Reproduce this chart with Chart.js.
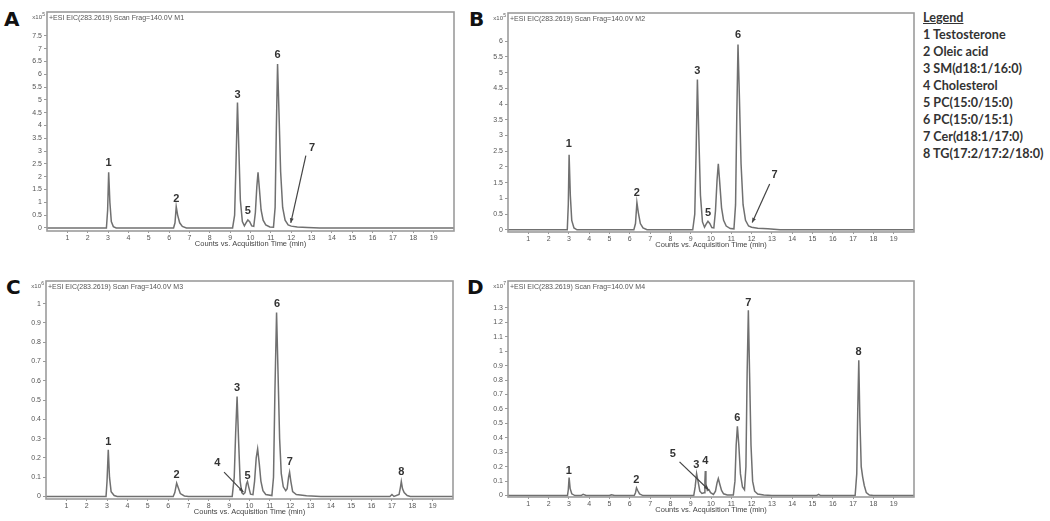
<!DOCTYPE html>
<html>
<head>
<meta charset="utf-8">
<script src="https://cdn.jsdelivr.net/npm/chart.js@4.4.1/dist/chart.umd.min.js"></script>
<style>
  body { margin: 0; background: #fff; width: 1050px; height: 521px; position: relative; overflow: hidden; }
  canvas { position: absolute; }
  .letter { position: absolute; font: bold 20px "DejaVu Sans", Arial, sans-serif; color: #111; line-height: 1; }
  .legend { position: absolute; left: 923px; top: 9px; font: bold 12.6px Lato, "Open Sans", sans-serif; color: #333; line-height: 17px; }
  .legend u { text-decoration-thickness: 1px; }
</style>
</head>
<body>
<div class="letter" style="left:4px;top:9px">A</div>
<div class="letter" style="left:469px;top:9px">B</div>
<div class="letter" style="left:6px;top:277px">C</div>
<div class="letter" style="left:467px;top:277px">D</div>
<div class="legend">
  <u>Legend</u><br>
  1 Testosterone<br>
  2 Oleic acid<br>
  3 SM(d18:1/16:0)<br>
  4 Cholesterol<br>
  5 PC(15:0/15:0)<br>
  6 PC(15:0/15:1)<br>
  7 Cer(d18:1/17:0)<br>
  8 TG(17:2/17:2/18:0)
</div>
<canvas id="chartA"></canvas>
<canvas id="chartB"></canvas>
<canvas id="chartC"></canvas>
<canvas id="chartD"></canvas>
<script>
// retention time ticks (min)
const xTicks = [1, 2, 3, 4, 5, 6, 7, 8, 9, 10, 11, 12, 13, 14, 15, 16, 17, 18, 19];

// y ticks per panel
const yTicksA = [0, 0.5, 1, 1.5, 2, 2.5, 3, 3.5, 4, 4.5, 5, 5.5, 6, 6.5, 7, 7.5];
const yTicksB = [0, 0.5, 1, 1.5, 2, 2.5, 3, 3.5, 4, 4.5, 5, 5.5, 6];
const yTicksC = [0, 0.1, 0.2, 0.3, 0.4, 0.5, 0.6, 0.7, 0.8, 0.9, 1];
const yTicksD = [0, 0.1, 0.2, 0.3, 0.4, 0.5, 0.6, 0.7, 0.8, 0.9, 1, 1.1, 1.2, 1.3];

// EIC traces: [time (min), counts]
const traceA = [
  [0, 0], [2.92, 0], [2.98, 0.7], [3.03, 2.17], [3.09, 1.0], [3.16, 0.25], [3.26, 0.05], [3.4, 0],
  [6.22, 0], [6.29, 0.2], [6.35, 0.83], [6.42, 0.5], [6.52, 0.2], [6.65, 0.06], [6.85, 0],
  [9.12, 0], [9.22, 0.5], [9.29, 2.6], [9.36, 4.9], [9.43, 3.0], [9.5, 1.1], [9.6, 0.25], [9.7, 0.08],
  [9.78, 0.2], [9.87, 0.31], [9.96, 0.24], [10.06, 0.08], [10.16, 0.06], [10.24, 0.6], [10.31, 1.6],
  [10.37, 2.17], [10.44, 1.5], [10.52, 0.7], [10.62, 0.3], [10.75, 0.12], [10.95, 0.04], [11.13, 0.03],
  [11.21, 0.8], [11.27, 3.9], [11.33, 6.4], [11.4, 4.5], [11.48, 2.2], [11.58, 0.8], [11.7, 0.3],
  [11.85, 0.12], [12.0, 0.07], [12.3, 0.04], [12.8, 0.02], [13.4, 0], [20, 0]
];
const traceB = [
  [0, 0], [2.92, 0], [2.97, 0.8], [3.01, 2.39], [3.07, 1.1], [3.14, 0.3], [3.25, 0.06], [3.4, 0],
  [6.2, 0], [6.28, 0.2], [6.35, 0.87], [6.42, 0.55], [6.52, 0.2], [6.65, 0.06], [6.85, 0],
  [9.1, 0], [9.2, 0.5], [9.27, 2.6], [9.33, 4.78], [9.4, 3.0], [9.48, 1.1], [9.58, 0.25], [9.68, 0.08],
  [9.76, 0.18], [9.85, 0.27], [9.94, 0.2], [10.04, 0.07], [10.14, 0.06], [10.22, 0.6], [10.3, 1.6],
  [10.36, 2.1], [10.43, 1.5], [10.52, 0.7], [10.62, 0.3], [10.75, 0.12], [10.95, 0.04], [11.13, 0.03],
  [11.21, 0.8], [11.27, 3.6], [11.33, 5.9], [11.4, 4.2], [11.48, 2.1], [11.58, 0.8], [11.7, 0.3],
  [11.85, 0.12], [12.0, 0.08], [12.3, 0.05], [12.8, 0.03], [13.4, 0], [20, 0]
];
const traceC = [
  [0, 0], [2.95, 0], [3.0, 0.08], [3.06, 0.242], [3.12, 0.1], [3.2, 0.025], [3.35, 0.005], [3.5, 0],
  [6.25, 0], [6.33, 0.02], [6.42, 0.069], [6.5, 0.045], [6.6, 0.015], [6.8, 0.003], [7, 0],
  [9.15, 0], [9.25, 0.1], [9.32, 0.33], [9.39, 0.518], [9.46, 0.3], [9.54, 0.08], [9.62, 0.02],
  [9.7, 0.012], [9.78, 0.02], [9.85, 0.065], [9.9, 0.078], [9.96, 0.05], [10.05, 0.012], [10.17, 0.01],
  [10.25, 0.08], [10.33, 0.2], [10.4, 0.247], [10.48, 0.17], [10.56, 0.08], [10.66, 0.03], [10.8, 0.01],
  [11.1, 0.005], [11.18, 0.1], [11.25, 0.55], [11.33, 0.953], [11.4, 0.65], [11.48, 0.3], [11.56, 0.12],
  [11.66, 0.05], [11.78, 0.03], [11.85, 0.04], [11.92, 0.1], [11.97, 0.126], [12.03, 0.08], [12.12, 0.025],
  [12.3, 0.01], [12.8, 0.004], [13.5, 0],
  [16.9, 0], [17.0, 0.01], [17.1, 0], [17.35, 0.01], [17.42, 0.05], [17.46, 0.078], [17.52, 0.04],
  [17.6, 0.02], [17.75, 0.005], [17.9, 0], [20, 0]
];
const traceD = [
  [0, 0], [2.93, 0], [2.97, 0.04], [3.01, 0.125], [3.06, 0.05], [3.14, 0.012], [3.3, 0],
  [3.6, 0], [3.7, 0.008], [3.85, 0], [5.0, 0], [5.1, 0.006], [5.25, 0],
  [6.22, 0], [6.28, 0.02], [6.33, 0.053], [6.39, 0.035], [6.48, 0.012], [6.65, 0],
  [9.15, 0], [9.22, 0.06], [9.29, 0.152], [9.36, 0.1], [9.45, 0.03], [9.55, 0.015], [9.66, 0.02],
  [9.7, 0.1], [9.72, 0.17], [9.75, 0.08], [9.82, 0.035], [9.9, 0.04], [9.98, 0.02], [10.12, 0.008],
  [10.22, 0.03], [10.3, 0.09], [10.36, 0.118], [10.43, 0.08], [10.52, 0.035], [10.62, 0.012],
  [10.8, 0.004], [11.1, 0.004], [11.18, 0.1], [11.24, 0.35], [11.3, 0.48], [11.37, 0.35], [11.45, 0.15],
  [11.55, 0.06], [11.65, 0.04], [11.72, 0.2], [11.78, 0.85], [11.84, 1.284], [11.9, 0.85], [11.97, 0.35],
  [12.05, 0.1], [12.15, 0.03], [12.3, 0.01], [12.6, 0.004], [13, 0],
  [15.2, 0], [15.3, 0.008], [15.4, 0],
  [17.1, 0], [17.18, 0.15], [17.23, 0.6], [17.28, 0.937], [17.33, 0.55], [17.4, 0.2], [17.47, 0.13],
  [17.55, 0.07], [17.65, 0.02], [17.8, 0.004], [18, 0], [20, 0]
];

// peak numbers: [text, time, counts]
const peakLabelsA = [['1', 3.03, 2.53], ['2', 6.35, 1.13], ['3', 9.36, 5.2], ['5', 9.87, 0.66], ['6', 11.33, 6.76], ['7', 13.02, 3.14]];
const peakLabelsB = [['1', 3.0, 2.74], ['2', 6.35, 1.17], ['3', 9.33, 5.07], ['5', 9.85, 0.53], ['6', 11.33, 6.19], ['7', 13.13, 1.73]];
const peakLabelsC = [['1', 3.06, 0.282], ['2', 6.42, 0.112], ['3', 9.39, 0.565], ['4', 8.42, 0.173], ['5', 9.9, 0.107], ['6', 11.35, 1.0], ['7', 11.98, 0.178], ['8', 17.46, 0.126]];
const peakLabelsD = [['1', 3.0, 0.17], ['2', 6.32, 0.111], ['3', 9.28, 0.21], ['4', 9.72, 0.238], ['5', 8.12, 0.29], ['6', 11.3, 0.54], ['7', 11.84, 1.337], ['8', 17.27, 0.995]];

// pointer arrows: [fromTime, fromCounts, toTime, toCounts]
const arrowsA = [[12.72, 2.82, 11.98, 0.2]];
const arrowsB = [[12.89, 1.46, 12.03, 0.23]];
const arrowsC = [[8.75, 0.126, 9.7, 0.023]];
const arrowsD = [[8.45, 0.233, 9.88, 0.04]];

const panels = [
  { id: 'chartA', trace: traceA, yTicks: yTicksA, yMin: -0.12, yMax: 8.43, exp: '5', tag: 'M1', labels: peakLabelsA, arrows: arrowsA, box: [47, 12, 454, 231] },
  { id: 'chartB', trace: traceB, yTicks: yTicksB, yMin: -0.07, yMax: 6.9, exp: '5', tag: 'M2', labels: peakLabelsB, arrows: arrowsB, box: [508, 13, 914, 232] },
  { id: 'chartC', trace: traceC, yTicks: yTicksC, yMin: -0.013, yMax: 1.117, exp: '6', tag: 'M3', labels: peakLabelsC, arrows: arrowsC, box: [46, 281, 453, 499] },
  { id: 'chartD', trace: traceD, yTicks: yTicksD, yMin: -0.01, yMax: 1.487, exp: '7', tag: 'M4', labels: peakLabelsD, arrows: arrowsD, box: [508, 281, 914, 497] }
];

const AXIS_W = 40, PAD_T = 8, PAD_R = 4, AXIS_H = 17;

const fmt = v => String(Math.round(v * 10) / 10);

const decor = {
  id: 'decor',
  afterDatasetsDraw(chart, args, opts) {
    const { ctx, chartArea: a, scales: { x, y } } = chart;
    ctx.save();
    // frame
    ctx.strokeStyle = '#9c9c9c';
    ctx.lineWidth = 1.6;
    ctx.strokeRect(a.left, a.top, a.right - a.left, a.bottom - a.top);
    // header text
    ctx.fillStyle = '#555';
    ctx.font = '7px Arial, "Liberation Sans", sans-serif';
    ctx.textBaseline = 'middle';
    ctx.textAlign = 'left';
    ctx.fillText('+ESI EIC(283.2619) Scan Frag=140.0V ' + opts.tag, a.left + 2, a.top + 6.5);
    ctx.textAlign = 'right';
    ctx.font = '6px Arial, "Liberation Sans", sans-serif';
    ctx.fillText('x10', a.left - 5, a.top + 5);
    ctx.font = '5px Arial, "Liberation Sans", sans-serif';
    ctx.fillText(opts.exp, a.left - 2, a.top + 3);
    // peak numbers
    ctx.fillStyle = '#333';
    ctx.font = 'bold 11px Arial, "Liberation Sans", sans-serif';
    ctx.textAlign = 'center';
    opts.labels.forEach(([t, tx, ty]) => {
      ctx.fillText(t, x.getPixelForValue(tx), y.getPixelForValue(ty));
    });
    // arrows
    ctx.strokeStyle = '#444';
    ctx.fillStyle = '#444';
    ctx.lineWidth = 1.2;
    opts.arrows.forEach(([x1, y1, x2, y2]) => {
      const px1 = x.getPixelForValue(x1), py1 = y.getPixelForValue(y1);
      const px2 = x.getPixelForValue(x2), py2 = y.getPixelForValue(y2);
      ctx.beginPath();
      ctx.moveTo(px1, py1);
      ctx.lineTo(px2, py2);
      ctx.stroke();
      const ang = Math.atan2(py2 - py1, px2 - px1);
      ctx.beginPath();
      ctx.moveTo(px2, py2);
      ctx.lineTo(px2 - 5 * Math.cos(ang - 0.4), py2 - 5 * Math.sin(ang - 0.4));
      ctx.lineTo(px2 - 5 * Math.cos(ang + 0.4), py2 - 5 * Math.sin(ang + 0.4));
      ctx.closePath();
      ctx.fill();
    });
    ctx.restore();
  }
};

panels.forEach(p => {
  const [l, t, r, b] = p.box;
  const cv = document.getElementById(p.id);
  const w = r - l + AXIS_W + PAD_R;
  const h = b - t + PAD_T + AXIS_H;
  cv.width = w;
  cv.height = h;
  cv.style.left = (l - AXIS_W) + 'px';
  cv.style.top = (t - PAD_T) + 'px';
  cv.style.width = w + 'px';
  cv.style.height = h + 'px';

  new Chart(cv, {
    type: 'line',
    data: {
      datasets: [{
        data: p.trace.map(([tx, v]) => ({ x: tx, y: v })),
        borderColor: '#707070',
        borderWidth: 1.5,
        pointRadius: 0,
        tension: 0,
        fill: false,
      }],
    },
    options: {
      responsive: false,
      animation: false,
      devicePixelRatio: 1,
      layout: { padding: { top: PAD_T, right: PAD_R, left: 0, bottom: 0 } },
      plugins: {
        legend: { display: false },
        tooltip: { enabled: false },
        decor: { tag: p.tag, exp: p.exp, labels: p.labels, arrows: p.arrows },
      },
      scales: {
        x: {
          type: 'linear',
          min: 0,
          max: 20,
          afterBuildTicks: s => { s.ticks = xTicks.map(v => ({ value: v })); },
          afterFit: s => { s.height = AXIS_H; },
          border: { display: false },
          grid: { drawOnChartArea: false, tickLength: 2, color: '#999' },
          ticks: { padding: 1, maxRotation: 0, autoSkip: false, color: '#555', font: { size: 7, family: 'Arial' }, callback: v => fmt(v) },
          title: { display: true, text: 'Counts vs. Acquisition Time (min)', color: '#444', font: { size: 7.5, family: 'Arial' }, padding: 0 },
        },
        y: {
          min: p.yMin,
          max: p.yMax,
          afterBuildTicks: s => { s.ticks = p.yTicks.map(v => ({ value: v })); },
          afterFit: s => { s.width = AXIS_W; },
          border: { display: false },
          grid: { drawOnChartArea: false, tickLength: 3, color: '#999' },
          ticks: { padding: 2, autoSkip: false, color: '#555', font: { size: 7, family: 'Arial' }, callback: v => fmt(v) },
        },
      },
    },
    plugins: [decor],
  });
});
</script>
</body>
</html>
